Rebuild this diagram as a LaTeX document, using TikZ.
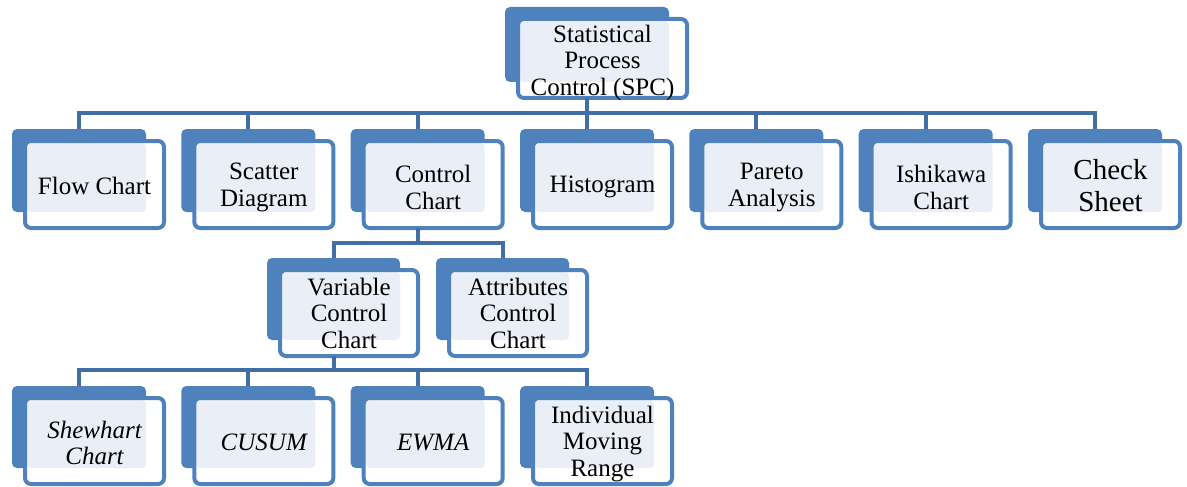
\documentclass[tikz,border=0pt]{standalone}
\usepackage{fontspec}
\setmainfont{Liberation Serif}
\newfontfamily\timesfont{Liberation Serif}
\definecolor{backblue}{RGB}{79,129,189}
\definecolor{lightfill}{RGB}{234,239,247}
\definecolor{connblue}{RGB}{66,110,166}
\tikzset{
  backbox/.style={rectangle, rounded corners=5pt, fill=backblue, draw=none, inner sep=0pt, outer sep=0pt},
  frontbox/.style={rectangle, rounded corners=6pt, draw=backblue, line width=4pt, inner sep=0pt, outer sep=0pt},
  boxtext/.style={align=center, inner sep=0pt, font=\timesfont\fontsize{25}{26.5}\selectfont},
  conn/.style={draw=connblue, line width=4pt},
}
% name, x, y (top-left of back box), back width, back height, text shift, text
\newcommand\tbox[7]{%
  \node[backbox, minimum width=#4, minimum height=#5] (#1B) at ({#2+#4/2},{#3+#5/2}) {};
  \fill[white, rounded corners=6pt] ({#2+13},{#3+12}) rectangle ++({#4+5},{#5+4});
  \fill[lightfill, rounded corners=4pt] ({#2+15},{#3+14}) rectangle ({#2+#4},{#3+#5});
  \node[frontbox, minimum width={#4+5}, minimum height={#5+4}] (#1) at ({#2+13+(#4+5)/2},{#3+12+(#5+4)/2}) {};
  \node[boxtext, yshift=-#6pt] (#1T) at (#1.center) {#7};
}
\begin{document}
\begin{tikzpicture}[x=1pt,y=-1pt]
\useasboundingbox (0,0) rectangle (1187,487);
% top
\tbox{spc}{505}{7}{164}{75}{4}{Statistical\\Process\\Control (SPC)}
% row 1
\tbox{flow}{12}{129}{134}{83}{1}{Flow Chart}
\tbox{scatter}{181.3}{129}{134}{83}{3}{Scatter\\Diagram}
\tbox{control}{350.7}{129}{134}{83}{3}{Control\\Chart}
\tbox{hist}{520}{129}{134}{83}{2}{Histogram}
\tbox{pareto}{689.3}{129}{134}{83}{3}{Pareto\\Analysis}
\tbox{ishi}{858.7}{129}{134}{83}{3}{Ishikawa\\Chart}
\tbox{check}{1028}{129}{134}{83}{1}{\fontsize{29}{32}\selectfont Check\\[5pt]\fontsize{29}{32}\selectfont Sheet}
% row 2
\tbox{var}{267}{258}{133}{82}{0}{Variable\\Control\\Chart}
\tbox{attr}{436}{258}{133}{82}{0}{Attributes\\Control\\Chart}
% row 3
\tbox{shew}{12}{386}{134}{82}{2}{\itshape Shewhart\\\itshape Chart}
\tbox{cusum}{181.3}{386}{134}{82}{1}{\itshape CUSUM}
\tbox{ewma}{350.7}{386}{134}{82}{1}{\itshape EWMA}
\tbox{imr}{520}{386}{134}{82}{3}{Individual\\Moving\\Range}
% buses
\coordinate (bus1) at (0,113);
\coordinate (bus2) at (0,243);
\coordinate (bus3) at (0,370);
\foreach \c in {flow,scatter,control,hist,pareto,ishi,check}
  \draw[conn] (spcB.center |- spc.south) -- (spcB.center |- bus1) -| (\c B.north);
\foreach \c in {var,attr}
  \draw[conn] (controlB.center |- control.south) -- (controlB.center |- bus2) -| (\c B.north);
\foreach \c in {shew,cusum,ewma,imr}
  \draw[conn] (varB.center |- var.south) -- (varB.center |- bus3) -| (\c B.north);
\end{tikzpicture}
\end{document}
